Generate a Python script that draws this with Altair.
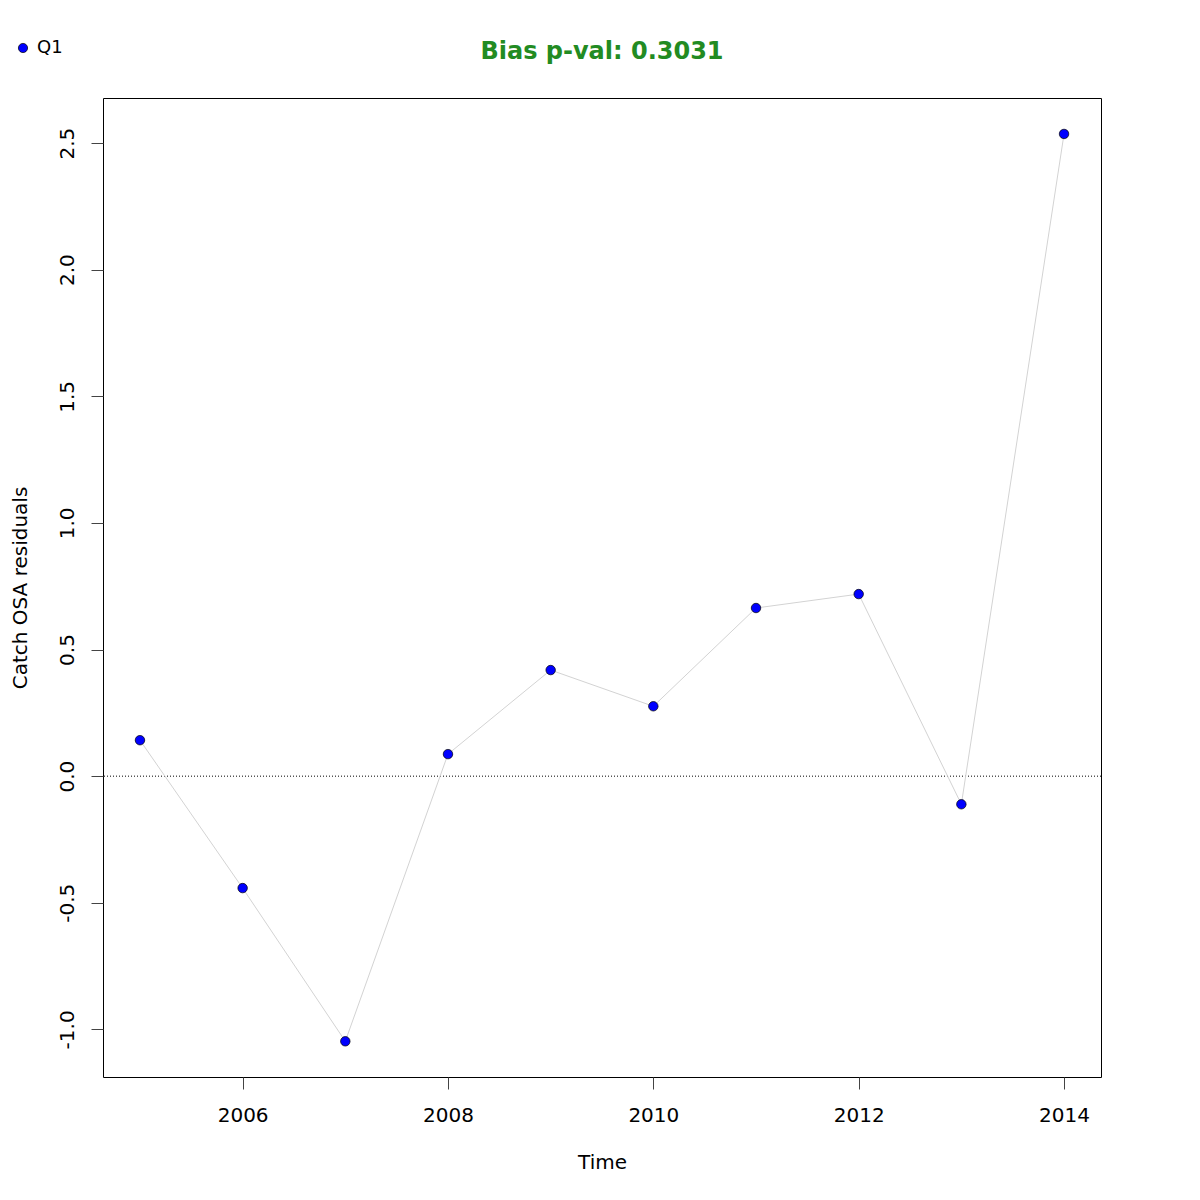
import altair as alt
import pandas as pd

years = [2005, 2006, 2007, 2008, 2009, 2010, 2011, 2012, 2013, 2014]
residuals = [0.142, -0.442, -1.047, 0.087, 0.419, 0.276, 0.664, 0.719, -0.111, 2.536]
series = ["Q1"] * len(years)
x_ticks = [2006, 2008, 2010, 2012, 2014]
y_ticks = [-1.0, -0.5, 0.0, 0.5, 1.0, 1.5, 2.0, 2.5]
title_text = "Bias p-val: 0.3031"

df = pd.DataFrame({"Time": years, "resid": residuals, "series": series})

W, H = 998, 979
FONT = "DejaVu Sans"

xs = alt.Scale(domain=[2004.64, 2014.36], nice=False, zero=False)
ys = alt.Scale(domain=[-1.188, 2.678], nice=False, zero=False)

xaxis = alt.Axis(values=x_ticks, format="d", title="Time", grid=False, domain=False,
                 tickSize=12, tickColor="#444", labelFontSize=20, labelFont=FONT,
                 labelColor="black", labelPadding=16, labelBaseline="top",
                 titleFont=FONT, titleFontSize=20, titleFontWeight="normal", titleColor="black",
                 titleX=W / 2, titleY=85, titleBaseline="middle", titleAlign="center")
yaxis = alt.Axis(values=y_ticks, title="Catch OSA residuals", grid=False, domain=False,
                 labelExpr="replace(format(datum.value, '.1f'), '\u2212', '-')",
                 tickSize=12, tickColor="#444", labelFontSize=20, labelFont=FONT,
                 labelColor="black", labelAngle=-90, labelAlign="center",
                 labelBaseline="alphabetic", labelPadding=18,
                 titleFont=FONT, titleFontSize=20, titleFontWeight="normal", titleColor="black",
                 titleAngle=-90, titleX=-83, titleY=H / 2, titleBaseline="middle", titleAlign="center")

base = alt.Chart(df)

line = base.mark_line(color="#d3d3d3", strokeWidth=1).encode(
    x=alt.X("Time:Q", scale=xs, axis=xaxis),
    y=alt.Y("resid:Q", scale=ys, axis=yaxis),
)

zero = alt.Chart(pd.DataFrame({"z": [0.0]})).mark_rule(
    color="black", strokeWidth=1, strokeDash=[1, 2]
).encode(y=alt.Y("z:Q", scale=ys))

points = base.mark_point(filled=True, size=90, stroke="black", strokeWidth=0.7, opacity=1).encode(
    x=alt.X("Time:Q", scale=xs),
    y=alt.Y("resid:Q", scale=ys),
    fill=alt.Fill("series:N", scale=alt.Scale(domain=["Q1"], range=["#0000ff"]),
                  legend=alt.Legend(title=None, orient="none", legendX=-89, legendY=-59,
                                    padding=0, symbolSize=85, symbolStrokeColor="black",
                                    symbolStrokeWidth=0.7, symbolType="circle",
                                    labelFont=FONT, labelFontSize=18, labelColor="black",
                                    labelOffset=5)),
)

chart = alt.layer(zero, line, points).properties(
    width=W, height=H,
    title=alt.TitleParams(title_text, font=FONT, fontSize=24, fontWeight="bold",
                          color="#228B22", anchor="middle", frame="group", offset=-44,
                          baseline="alphabetic"),
    autosize=alt.AutoSizeParams(type="none"),
    padding={"left": 95, "top": 90, "right": 91, "bottom": 95},
).configure(background="white").configure_view(stroke="black", strokeWidth=1)

chart.save("out.html", embed_options={"renderer": "svg", "actions": False})
